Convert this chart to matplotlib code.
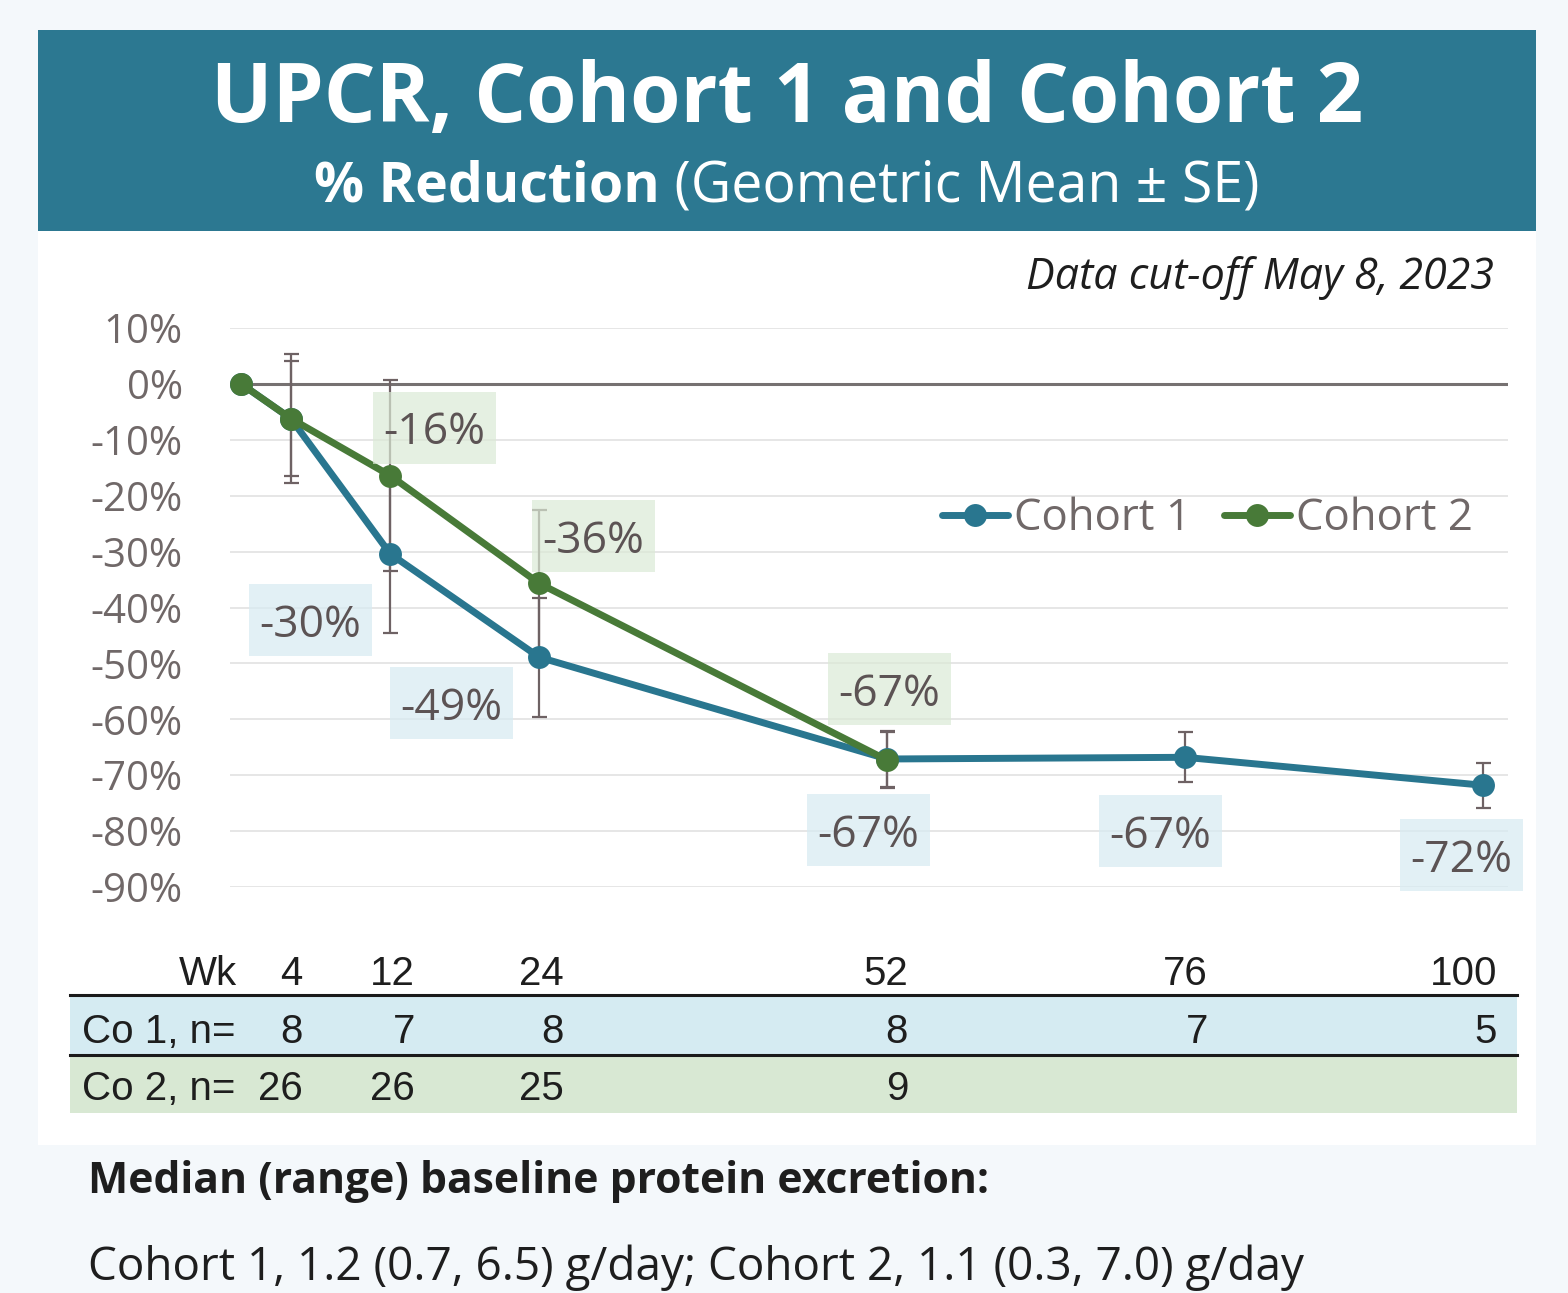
'''
UPCR % reduction, cohort 1 and cohort 2 (geometric mean +- SE)
    writes out.png
'''
import numpy as np
import matplotlib
matplotlib.use('Agg')
import matplotlib.pyplot as plt
from matplotlib import font_manager
from matplotlib.patches import Rectangle
from matplotlib.transforms import ScaledTranslation, blended_transform_factory, offset_copy

# data
weeks = [0, 4, 12, 24, 52, 76, 100]
c1_mean = [0, -6.2, -30.4, -48.9, -67.1, -66.8, -71.8]
c1_se = [0, 11.6, 14.1, 10.6, 5.0, 4.5, 4.0]

c2_weeks = [0, 4, 12, 24, 52]
c2_mean = [0, -6.2, -16.4, -35.7, -67.3]
c2_se = [0, 10.3, 17.1, 13.2, 5.0]

table_weeks = [4, 12, 24, 52, 76, 100]
c1_n = [8, 7, 8, 8, 7, 5]
c2_n = [26, 26, 25, 9]

# which points get a value label, and where the label box sits (px offset from point)
c1_label_idx = [2, 3, 4, 5, 6]
c1_label_off = [(-80, -66), (-88, -46), (-19, -71), (-25, -74), (-22, -70)]
c2_label_idx = [2, 3, 4]
c2_label_off = [(44, 48), (54, 47), (2, 71)]

# table column right edges relative to week position (px)
col_off = [12, 25, 24, 21, 23, 14]

W, H = 1568, 1293
TEAL = '#29768f'
GREEN = '#487a38'
BANNER = '#2c7891'
TXT_GRAY = '#5c5354'
TICK_GRAY = '#706868'

plt.rcParams['font.family'] = ['Open Sans', 'DejaVu Sans']

names = {f.name for f in font_manager.fontManager.ttflist}
if 'Liberation Sans Narrow' in names:
    table_font = dict(family=['Liberation Sans Narrow', 'DejaVu Sans'], fontsize=34)
else:
    table_font = dict(family=['Liberation Sans', 'DejaVu Sans'], fontsize=29)


def fx(x):
    return x / W


def fy(y):
    return 1 - y / H


fig = plt.figure(figsize=(W / 100, H / 100), dpi=100)
fig.patch.set_facecolor('#f4f8fb')

# banner + white panel
fig.add_artist(Rectangle((fx(38), fy(231)), 1498 / W, 201 / H, transform=fig.transFigure,
                         facecolor=BANNER, edgecolor='none', zorder=-2))
fig.add_artist(Rectangle((fx(38), fy(1145)), 1498 / W, 914 / H, transform=fig.transFigure,
                         facecolor='white', edgecolor='none', zorder=-2))

fig.text(fx(787), fy(122), 'UPCR, Cohort 1 and Cohort 2', ha='center', va='baseline',
         fontsize=58.7, fontweight='bold', color='white')

# subtitle: bold part + regular part, centred together
renderer = fig.canvas.get_renderer()
s1 = fig.text(0, fy(201), '% Reduction', ha='left', va='baseline', fontsize=40,
              fontweight='bold', color='white')
s2 = fig.text(0, fy(201), ' (Geometric Mean \u00b1 SE)', ha='left', va='baseline',
              fontsize=40, color='white')
w1 = s1.get_window_extent(renderer).width
w2 = s2.get_window_extent(renderer).width
x0 = 787 - (w1 + w2) / 2
s1.set_x(fx(x0))
s2.set_x(fx(x0 + w1))

fig.text(fx(1494), fy(289), 'Data cut-off May 8, 2023', ha='right', va='baseline',
         fontsize=31, fontstyle='italic', color='#1e1e1e')

# main axes
ax = fig.add_axes([fx(230), fy(887), 1278 / W, 559 / H])
ax.set_facecolor('none')
ax.set_xlim(-0.9, 102)
ax.set_ylim(-90, 10)
yt = np.arange(-90, 11, 10)
ax.set_yticks(yt)
ax.set_yticklabels([f'{v}%' for v in yt])
ax.set_xticks([])
ax.tick_params(axis='y', length=0, pad=34, labelsize=29, labelcolor=TICK_GRAY)
for s in ax.spines.values():
    s.set_visible(False)
ax.grid(axis='y', color='#e2e2e2', linewidth=1.2)
ax.set_axisbelow(True)
ax.axhline(0, color='#767171', linewidth=2.2, zorder=1.5)

eb = dict(fmt='none', ecolor='#6e6264', elinewidth=1.6, capsize=5.4, capthick=1.6,
          zorder=2, clip_on=False)
ax.errorbar(weeks[1:], c1_mean[1:], yerr=c1_se[1:], **eb)
ax.errorbar(c2_weeks[1:], c2_mean[1:], yerr=c2_se[1:], **eb)

ax.plot(weeks, c1_mean, color=TEAL, lw=5, marker='o', ms=16.5, mew=0,
        zorder=3, clip_on=False, solid_capstyle='round', label='Cohort 1')
ax.plot(c2_weeks, c2_mean, color=GREEN, lw=5, marker='o', ms=16.5, mew=0,
        zorder=4, clip_on=False, solid_capstyle='round', label='Cohort 2')


def add_label(week, val, dx, dy, fc):
    '''
    value label in a light box, offset dx/dy pixels from the point
    '''
    tr = fig.dpi_scale_trans + ScaledTranslation(week, val, ax.transData)
    ax.add_patch(Rectangle(((dx - 61.5) / 100, (dy - 36) / 100), 1.23, 0.72, transform=tr,
                           facecolor=fc, alpha=0.7, edgecolor='none', zorder=5,
                           clip_on=False))
    ax.text(dx / 100, dy / 100, f'{val:.0f}%', transform=tr, ha='center',
            va='center_baseline', fontsize=32, color=TXT_GRAY, zorder=6, clip_on=False)


for i, (dx, dy) in zip(c1_label_idx, c1_label_off):
    add_label(weeks[i], c1_mean[i], dx, dy, '#d7ebf2')
for i, (dx, dy) in zip(c2_label_idx, c2_label_off):
    add_label(c2_weeks[i], c2_mean[i], dx, dy, '#dbead6')

leg = ax.legend(loc='center left', bbox_to_anchor=(fx(942), fy(519)),
                bbox_transform=fig.transFigure, ncol=2, frameon=False, fontsize=31.5,
                handlelength=1.5, handletextpad=0.15, columnspacing=0.75,
                borderpad=0, borderaxespad=0)
for t in leg.get_texts():
    t.set_color(TICK_GRAY)

# n-table under the chart
fig.add_artist(Rectangle((fx(70), fy(1055)), 1447 / W, 58 / H, transform=fig.transFigure,
                         facecolor='#d5ebf2', edgecolor='none', zorder=-1))
fig.add_artist(Rectangle((fx(70), fy(1113)), 1447 / W, 58 / H, transform=fig.transFigure,
                         facecolor='#d8e8d3', edgecolor='none', zorder=-1))
for yl in (995, 1055):
    fig.add_artist(plt.Line2D([fx(70), fx(1517)], [fy(yl), fy(yl)], transform=fig.transFigure,
                              color='#1a1a1a', lw=2.2, zorder=0))

tcol = '#1e1e1e'
fig.text(fx(237), fy(985), 'Wk', ha='right', va='baseline', color=tcol, **table_font)
fig.text(fx(82), fy(1043), 'Co 1, n=', ha='left', va='baseline', color=tcol, **table_font)
fig.text(fx(82), fy(1100), 'Co 2, n=', ha='left', va='baseline', color=tcol, **table_font)

col_trans = blended_transform_factory(ax.transData, fig.transFigure)
for k, wk in enumerate(table_weeks):
    tr = offset_copy(col_trans, fig=fig, x=col_off[k], y=0, units='dots')
    fig.text(wk, fy(985), str(wk), transform=tr, ha='right', va='baseline', color=tcol,
             **table_font)
    if k < len(c1_n):
        fig.text(wk, fy(1043), str(c1_n[k]), transform=tr, ha='right', va='baseline',
                 color=tcol, **table_font)
    if k < len(c2_n):
        fig.text(wk, fy(1100), str(c2_n[k]), transform=tr, ha='right', va='baseline',
                 color=tcol, **table_font)

fig.text(fx(88), fy(1193), 'Median (range) baseline protein excretion:', ha='left',
         va='baseline', fontsize=30.7, fontweight='bold', color='#1e1e1e')
fig.text(fx(88), fy(1280), 'Cohort 1, 1.2 (0.7, 6.5) g/day; Cohort 2, 1.1 (0.3, 7.0) g/day',
         ha='left', va='baseline', fontsize=33, color='#1e1e1e')

fig.savefig('out.png', dpi=100, facecolor=fig.get_facecolor())
plt.close(fig)
